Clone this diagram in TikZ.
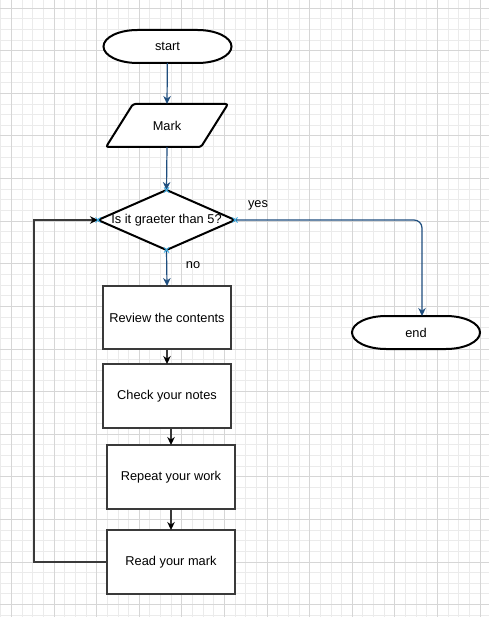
\documentclass[tikz,border=0pt]{standalone}
\usepackage{fontspec}
\setmainfont{Liberation Sans}
\usetikzlibrary{arrows.meta,calc}
\definecolor{gridminor}{HTML}{EBEBEB}
\definecolor{gridmajor}{HTML}{D6D6D6}
\definecolor{flowblue}{HTML}{1F4E7E}
\definecolor{markblue}{HTML}{3AAEE8}
\definecolor{boxgray}{HTML}{3A3A3A}
\tikzset{
  lbl/.style={font=\fontsize{12.8}{15}\selectfont, text=black},
  term/.style={minimum width=128pt, minimum height=33pt, outer sep=0pt, lbl},
  plain/.style={minimum width=#1, outer sep=0pt, lbl},
  procbox/.style={draw=boxgray, line width=1.3pt, fill=white, minimum width=128pt, minimum height=64pt, outer sep=0pt, lbl},
  bluearrow/.style={draw=flowblue, line width=1.2pt, -{Stealth[length=8pt,width=7.5pt]}},
  blackarrow/.style={draw=boxgray, line width=1.3pt, -{Stealth[length=8pt,width=7.5pt,color=black]}},
  xmark/.style={draw=markblue, line width=1pt},
  termline/.style={draw=black, line width=2pt, fill=white}
}
\newcommand{\xm}[1]{\draw[xmark] ($(#1)+(-2.5pt,-2.5pt)$) -- ($(#1)+(2.5pt,2.5pt)$) ($(#1)+(-2.5pt,2.5pt)$) -- ($(#1)+(2.5pt,-2.5pt)$);}
\newcommand{\termshape}[1]{\draw[termline] ([xshift=34pt]#1.north west) -- ([xshift=-34pt]#1.north east)
  arc[start angle=90, end angle=-90, x radius=34pt, y radius=16.5pt] -- ([xshift=34pt]#1.south west)
  arc[start angle=270, end angle=90, x radius=34pt, y radius=16.5pt] -- cycle;}
\begin{document}
\begin{tikzpicture}[x=1pt,y=-1pt]
\useasboundingbox (0,0) rectangle (489,617);
\fill[white] (0,0) rectangle (489,617);
% grid
\foreach \i in {0,...,46} {\draw[gridminor, line width=0.8pt] ({0.75+\i*10.65},0) -- ({0.75+\i*10.65},617);}
\foreach \j in {0,...,57} {\draw[gridminor, line width=0.8pt] (0,{8.1+\j*10.65}) -- (489,{8.1+\j*10.65});}
\foreach \i in {0,...,11} {\draw[gridmajor, line width=0.8pt] ({11.4+\i*42.6},0) -- ({11.4+\i*42.6},617);}
\foreach \j in {0,...,14} {\draw[gridmajor, line width=0.8pt] (0,{8.1+\j*42.6}) -- (489,{8.1+\j*42.6});}

% nodes
\node[term] (start) at (167.5,46.5) {};
\termshape{start}
\node[lbl] at (start) {start};
\node[plain=95pt, minimum height=43pt] (mark) at (167,125.5) {};
\draw[black, line width=2pt, rounded corners=2.5pt, fill=white]
  ([xshift=13.5pt]mark.north west) -- ([xshift=13.5pt]mark.north east) --
  ([xshift=-13.5pt]mark.south east) -- ([xshift=-13.5pt]mark.south west) -- cycle;
\node[lbl] at (mark) {Mark};
\node[plain=137pt, minimum height=60pt] (dec) at (166.5,220) {};
\draw[black, line width=2pt, fill=white] (dec.north) -- (dec.east) -- (dec.south) -- (dec.west) -- cycle;
\node[lbl] at (dec) {Is it graeter than 5?};
\node[term] (end) at (416,332.5) {};
\termshape{end}
\node[lbl] at (end) {end};
\node[procbox, minimum height=63pt] (review) at (167,317.5) {Review the contents};
\node[procbox] (check) at (167,396) {Check your notes};
\node[procbox] (repeat) at (171,477) {Repeat your work};
\node[procbox] (read) at (171,562) {Read your mark};
\coordinate (fb) at (34,400);
\coordinate (endin) at ([xshift=6pt]end.north);

% connectors
\draw[bluearrow] (start) -- (mark.north);
\draw[bluearrow] (mark.south) -- (dec.north);
\draw[bluearrow] (dec.south) -- (review.north);
\draw[bluearrow, rounded corners=8pt] (dec.east) -| (endin);
\draw[blackarrow] (review.south) -- (check.north);
\draw[blackarrow] (repeat.north |- check.south) -- (repeat.north);
\draw[blackarrow] (repeat.south) -- (read.north);
\draw[blackarrow] (read.west) -- (read.west -| fb) |- (dec.west);

% labels
\node[lbl] (yes) at (258,205) {yes};
\node[lbl] (no) at (193,265) {no};

% connection markers
\xm{dec.north}
\xm{dec.south}
\xm{dec.west}
\xm{dec.east}
\end{tikzpicture}
\end{document}
